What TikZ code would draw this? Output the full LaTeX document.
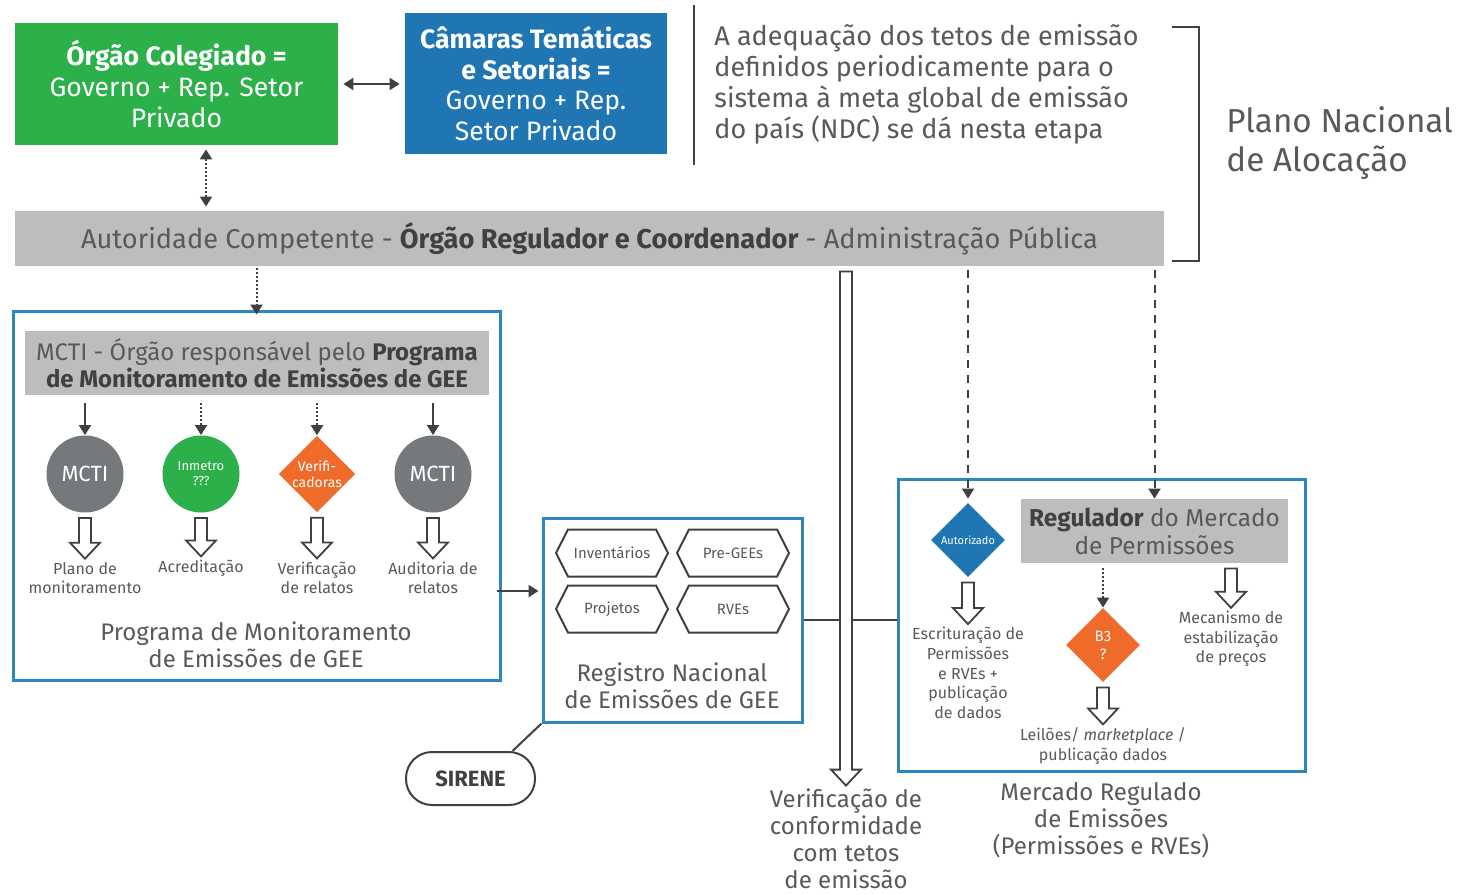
\documentclass[tikz,border=0pt]{standalone}
\usepackage{fontspec}
\setmainfont{Fira Sans}
\usetikzlibrary{arrows.meta,shapes.geometric,shapes.symbols,calc}

\definecolor{colgreen}{HTML}{2BB04A}
\definecolor{colblue}{HTML}{1F76B3}
\definecolor{colorange}{HTML}{EE6B2A}
\definecolor{colcircle}{HTML}{76797B}
\definecolor{colbar}{HTML}{BDBDBD}
\definecolor{colframe}{HTML}{2E86C1}
\definecolor{coltext}{HTML}{58595B}
\definecolor{coldark}{HTML}{404040}

\newcommand{\negrito}[1]{{\bfseries\color{coldark}#1}}
\newcommand{\hollowarrow}[2]{\draw[hollow] let \p1=(#1), \p2=(#2) in
  (\x1-3pt,\y1-2.5pt) -- (\x1-3pt,\y2+8pt) -- (\x1-7.5pt,\y2+8pt) -- (\x1,\y2)
  -- (\x1+7.5pt,\y2+8pt) -- (\x1+3pt,\y2+8pt) -- (\x1+3pt,\y1-2.5pt) -- cycle;}

\tikzset{
  solidbox/.style={inner sep=2pt, align=center, text=white, font=\fontsize{13.3}{15.3}\selectfont},
  framebox/.style={draw=colframe, line width=1.5pt},
  graybox/.style={fill=colbar, inner sep=2pt, align=center, text=coltext},
  roundnode/.style={circle, minimum size=38.5pt, inner sep=0pt, text=white, align=center},
  diamondnode/.style={diamond, minimum width=37pt, minimum height=37pt, inner sep=0pt, text=white, align=center},
  hexnode/.style={signal, signal to=east and west, signal pointer angle=126, draw=coldark, line width=1pt,
    minimum width=56pt, minimum height=23.5pt, inner sep=1pt, text=coltext, font=\fontsize{7.5}{9}\selectfont},
  smalltext/.style={align=center, text=coltext, inner sep=1.5pt, font=\fontsize{8}{9.8}\selectfont},
  bigtext/.style={align=center, text=coltext, inner sep=1.5pt, font=\fontsize{12}{13.5}\selectfont},
  arr/.style={-{Triangle[width=6pt,length=5pt]}, draw=coldark, line width=1pt},
  arrboth/.style={{Triangle[width=6pt,length=5pt]}-{Triangle[width=6pt,length=5pt]}, draw=coldark, line width=1pt},
  dotline/.style={dash pattern=on 1pt off 1pt},
  dashline/.style={dash pattern=on 4pt off 3.5pt},
  plainline/.style={draw=coldark, line width=1pt},
  hollow/.style={draw=coldark, line width=0.9pt, fill=white, line join=miter}
}

\begin{document}
\begin{tikzpicture}[x=0.5pt, y=-0.5pt]
\useasboundingbox (0, 0) rectangle (1460, 894);

\node[solidbox, fill=colgreen, minimum width=161.5pt, minimum height=61pt](green) at (176.5, 84) {\textbf{Órgão Colegiado =}\\Governo + Rep. Setor\\Privado};
\node[solidbox, fill=colblue, minimum width=131pt, minimum height=70.5pt](blue) at (536, 83.5) {\textbf{Câmaras Temáticas}\\\textbf{e Setoriais =}\\Governo + Rep.\\Setor Privado};
\node[anchor=west, align=left, text=coltext, inner sep=0pt, font=\fontsize{13.5}{15.5}\selectfont](para) at (714, 84.5) {A adequação dos tetos de emissão\\definidos periodicamente para o\\sistema à meta global de emissão\\do país (NDC) se dá nesta etapa};
\node[anchor=west, align=left, text=coltext, inner sep=0pt, font=\fontsize{16.6}{19.5}\selectfont](plano) at (1226, 143) {Plano Nacional\\de Alocação};
\node[graybox, minimum width=574.5pt, minimum height=27.5pt, font=\fontsize{13.6}{15}\selectfont](bar) at (589.5, 238.5) {Autoridade Competente - \negrito{Órgão Regulador e Coordenador} - Administração Pública};

\draw[plainline] (694, 5) -- (694, 165);
\draw[plainline, line width=0.9pt] (1172, 27) -- (1199, 27) -- (1199, 261) -- (1172, 261);

\node[framebox, minimum width=243.5pt, minimum height=184.5pt](mcti) at (256.5, 495.5) {};
\node[graybox, minimum width=232pt, minimum height=32pt, font=\fontsize{12}{13.5}\selectfont](hdr) at (257, 363) {MCTI - Órgão responsável pelo \negrito{Programa}\\\negrito{de Monitoramento de Emissões de GEE}};
\node[roundnode, fill=colcircle, font=\fontsize{11}{13}\selectfont](c1) at (85, 474) {MCTI};
\node[roundnode, fill=colgreen, font=\fontsize{6.5}{7.5}\selectfont](c2) at (201, 474) {Inmetro\\???};
\node[diamondnode, fill=colorange, font=\fontsize{7}{8}\selectfont](c3) at (317, 474) {Verifi-\\cadoras};
\node[roundnode, fill=colcircle, font=\fontsize{11}{13}\selectfont](c4) at (433, 474) {MCTI};
\node[smalltext](l1) at (85, 578) {Plano de\\monitoramento};
\node[smalltext](l2) at (201, 568) {Acreditação};
\node[smalltext](l3) at (317, 578) {Verificação\\de relatos};
\node[smalltext](l4) at (433, 578) {Auditoria de\\relatos};
\node[bigtext](prog) at (256, 645) {Programa de Monitoramento\\de Emissões de GEE};

\node[framebox, minimum width=129.5pt, minimum height=102pt](reg) at (672.5, 620) {};
\node[hexnode](h1) at (612, 553) {Inventários};
\node[hexnode](h2) at (733, 553) {Pre-GEEs};
\node[hexnode](h3) at (612, 609) {Projetos};
\node[hexnode](h4) at (733, 609) {RVEs};
\node[bigtext](regtext) at (672, 686) {Registro Nacional\\de Emissões de GEE};
\node[draw=coldark, line width=1pt, rounded corners=13pt, minimum width=64.5pt, minimum height=26.5pt, text=coldark, font=\bfseries\fontsize{11}{13}\selectfont](sirene) at (470.5, 778.5) {SIRENE};

\node[framebox, minimum width=203.5pt, minimum height=146pt](mkt) at (1101.5, 625) {};
\node[diamondnode, fill=colblue, font=\fontsize{5.5}{6.5}\selectfont](aut) at (968, 540) {Autorizado};
\node[graybox, minimum width=133.5pt, minimum height=32pt, font=\fontsize{12.2}{14}\selectfont](regul) at (1154.5, 531) {\negrito{Regulador} do Mercado\\de Permissões};
\node[diamondnode, fill=colorange, font=\fontsize{7.5}{9}\selectfont](b3) at (1103, 645) {B3\\?};
\node[smalltext](esc) at (968, 673) {Escrituração de\\Permissões\\e RVEs +\\publicação\\de dados};
\node[smalltext](lei) at (1103, 746) {Leilões/ \textit{marketplace} /\\publicação dados};
\node[smalltext](mec) at (1231, 639) {Mecanismo de\\estabilização\\de preços};
\node[bigtext](verif) at (846, 839) {Verificação de\\conformidade\\com tetos\\de emissão};
\node[bigtext](mercado) at (1101, 820) {Mercado Regulado\\de Emissões\\(Permissões e RVEs)};

\coordinate (gb) at (206, 0);
\coordinate (m2r) at (497, 591);
\draw[arrboth, shorten <=2.5pt, shorten >=2.5pt] (green.east) -- (green.east -| blue.west);
\draw[arrboth, dotline, shorten <=2pt, shorten >=2pt] (green.south -| gb) -- (bar.north -| gb);
\draw[arr, dotline, shorten <=1pt, shorten >=-2.5pt] (bar.south -| mcti.north) -- (mcti.north);
\draw[arr, shorten <=4pt] (hdr.south -| c1) -- (c1.north);
\draw[arr, dotline, shorten <=4pt] (hdr.south -| c2) -- (c2.north);
\draw[arr, dotline, shorten <=4pt] (hdr.south -| c3) -- (c3.north);
\draw[arr, shorten <=4pt] (hdr.south -| c4) -- (c4.north);
\hollowarrow{c1.south}{l1.north}
\hollowarrow{c2.south}{l2.north}
\hollowarrow{c3.south}{l3.north}
\hollowarrow{c4.south}{l4.north}
\draw[arr, shorten >=1.5pt] (m2r) -- (m2r -| reg.west);
\draw[plainline] ([xshift=21pt]sirene.north) -- (reg.south west);
\draw[plainline] (reg.east) -- (reg.east -| mkt.west);
\hollowarrow{bar.south -| verif.north}{verif.north}
\draw[arr, dashline, shorten <=2pt, shorten >=2pt] (bar.south -| aut.north) -- (aut.north);
\draw[arr, dashline, shorten <=2pt, shorten >=0pt] (bar.south -| regul.north) -- (regul.north);
\draw[arr, dotline, shorten <=2.5pt] (regul.south -| b3.north) -- (b3.north);
\hollowarrow{aut.south}{esc.north}
\hollowarrow{b3.south}{lei.north}
\hollowarrow{regul.south -| mec.north}{mec.north}
\end{tikzpicture}
\end{document}
